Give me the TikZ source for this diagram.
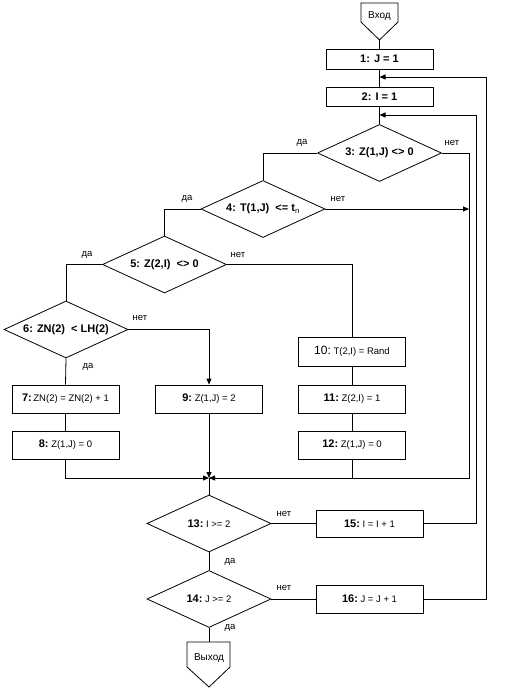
\documentclass[tikz,border=0pt]{standalone}
\usepackage{fontspec}
\setmainfont{Liberation Sans}
\usetikzlibrary{shapes.geometric,arrows.meta,calc}
\newcommand\smtxt{\fontsize{9.5}{11}\selectfont\mdseries}
\begin{document}
\begin{tikzpicture}[x=1pt,y=-1pt,line width=0.8pt,
  box/.style={draw,rectangle,minimum width=107pt,minimum height=28pt,inner sep=0pt,font=\bfseries\fontsize{11}{13}\selectfont},
  dia/.style={draw,diamond,minimum width=124pt,minimum height=57pt,inner sep=0pt,aspect=2.2,font=\bfseries\fontsize{11}{13}\selectfont},
  lbl/.style={inner sep=0pt,font=\fontsize{9.5}{11}\selectfont},
  term/.style={inner sep=0pt,font=\fontsize{10}{12}\selectfont},
  arr/.style={-{Triangle[length=6pt,width=5pt]}}]
\useasboundingbox (0,0) rectangle (507,695);

% terminals
\draw (361,3) -- (398,3) -- (398,22) -- (379.5,40) -- (361,22) -- cycle;
\node[term] (inlbl) at (379.5,16) {Вход};
\coordinate (intip) at (379.5,40);
\draw (187,642) -- (230,642) -- (230,667) -- (209,687) -- (187,667) -- cycle;
\node[term] (outlbl) at (209,658) {Выход};
\coordinate (outtop) at (209,642);

% boxes
\node[box,minimum height=20pt] (b1) at (379.5,59) {1: J = 1};
\node[box,minimum height=19pt] (b2) at (379.5,96.5) {2: I = 1};
\node[box] (b7) at (65.5,399) {7:{\smtxt\,ZN(2) = ZN(2) + 1}};
\node[box] (b8) at (65.5,445) {8:{\smtxt\ Z(1,J) = 0}};
\node[box] (b9) at (209,399) {9:{\smtxt\ Z(1,J) = 2}};
\node[box,minimum height=29pt,font=\fontsize{12}{14}\selectfont] (b10) at (352,351.5) {10:{\smtxt\ T(2,I) = Rand}};
\node[box] (b11) at (352,399) {11:{\smtxt\ Z(2,I) = 1}};
\node[box] (b12) at (352,445) {12:{\smtxt\ Z(1,J) = 0}};
\node[box,minimum height=27pt] (b15) at (369.5,523.5) {15:{\smtxt\ I = I + 1}};
\node[box] (b16) at (369.5,599) {16:{\smtxt\ J = J + 1}};

% decisions
\node[dia] (d3) at (379.5,153) {3: Z(1,J) <> 0};
\node[dia] (d4) at (263,209) {4: T(1,J)\ \ <= t\textsubscript{\mdseries n}};
\node[dia] (d5) at (164.5,264.5) {5: Z(2,I)\ \ <> 0};
\node[dia] (d6) at (66,329.5) {6: ZN(2)\ \ < LH(2)};
\node[dia] (d13) at (209,523.5) {13:{\smtxt\ I >= 2}};
\node[dia] (d14) at (209,599) {14:{\smtxt\ J >= 2}};

% junction points
\coordinate (m) at (209,478);
\coordinate (r1) at (469,478);
\coordinate (j1) at (379.5,77);
\coordinate (j2) at (379.5,115);
\coordinate (c15) at (476,115);
\coordinate (c16) at (486,77);

% connectors
\draw (intip) -- (b1.north);
\draw (b1.south) -- (b2.north);
\draw (b2.south) -- (d3.north);
\draw (d3.west) -| (d4.north);
\draw[arr] (d3.east) -| (r1) -- (m);
\draw[arr] (d4.east) -- (d4.east -| r1);
\draw (d4.west) -| (d5.north);
\draw (d5.east) -| (b10.north);
\draw (d5.west) -| (d6.north);
\draw[arr] (d6.east) -| (b9.north);
\draw (d6.south) -- (b7.north);
\draw (b7.south) -- (b8.north);
\draw[arr] (b8.south) |- (m);
\draw[arr] (b9.south) -- (m);
\draw (b10.south) -- (b11.north);
\draw (b11.south) -- (b12.north);
\draw (b12.south) -- (b12.south |- m);
\draw (m) -- (d13.north);
\draw (d13.east) -- (b15.west);
\draw[arr] (b15.east) -| (c15) -- (j2);
\draw (d13.south) -- (d14.north);
\draw (d14.east) -- (b16.west);
\draw[arr] (b16.east) -| (c16) -- (j1);
\draw (d14.south) -- (outtop);

% labels
\node[lbl] (l3y) at (302,143) {да};
\node[lbl] (l3n) at (452,143) {нет};
\node[lbl] (l4y) at (187,199) {да};
\node[lbl] (l4n) at (338,199) {нет};
\node[lbl] (l5y) at (87,255) {да};
\node[lbl] (l5n) at (238,255) {нет};
\node[lbl] (l6n) at (140,318) {нет};
\node[lbl] (l6y) at (88,367) {да};
\node[lbl] (l13n) at (284,514) {нет};
\node[lbl] (l13y) at (230,562) {да};
\node[lbl] (l14n) at (284,588) {нет};
\node[lbl] (l14y) at (230,628) {да};
\end{tikzpicture}
\end{document}
